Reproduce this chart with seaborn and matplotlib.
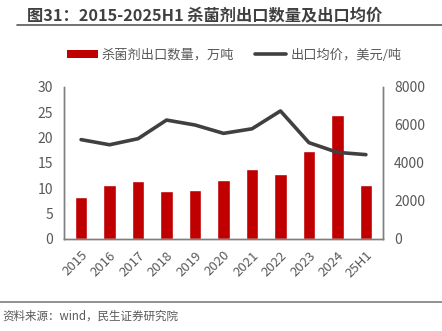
import numpy as np
import pandas as pd
import matplotlib
matplotlib.use("Agg")
import matplotlib.pyplot as plt
import seaborn as sns
from matplotlib.patches import Patch
from matplotlib.lines import Line2D

years = ["2015", "2016", "2017", "2018", "2019", "2020", "2021", "2022", "2023", "2024", "25H1"]
export_qty = [8.3, 10.7, 11.4, 9.4, 9.6, 11.6, 13.9, 12.9, 17.4, 24.4, 10.6]
avg_price = [5230, 4960, 5280, 6260, 6000, 5560, 5800, 6740, 5070, 4560, 4440]

sns.set_theme(style="white")
plt.rcParams['font.family'] = ['Noto Sans CJK SC', 'DejaVu Sans']

df = pd.DataFrame({"year": years, "qty": export_qty, "price": avg_price})

fig = plt.figure(figsize=(4.42, 3.31), dpi=100)
ax = fig.add_axes([64/442, 1-239/331, (383-64)/442, (239-87)/331])
sns.barplot(data=df, x="year", y="qty", color="#C00000", saturation=1, width=0.45, ax=ax)
ax.set_ylim(0, 30)
ax.set_yticks([0, 5, 10, 15, 20, 25, 30])
ax.set_xlim(-0.6, len(years) - 0.4)
ax.set_xlabel("")
ax.set_ylabel("")

ax2 = ax.twinx()
sns.lineplot(x=np.arange(len(years)), y=df["price"], color="#404040", linewidth=2.6, ax=ax2)
ax2.set_ylim(0, 8000)
ax2.set_yticks([0, 2000, 4000, 6000, 8000])
ax2.set_ylabel("")
ax2.set_xlim(-0.6, len(years) - 0.4)

gray = "#595959"
for a in (ax, ax2):
    for s in ["left", "right", "bottom"]:
        a.spines[s].set_visible(True)
        a.spines[s].set_color("#7f7f7f")
        a.spines[s].set_linewidth(1.0)
    a.spines["top"].set_visible(False)
    a.tick_params(axis="y", length=0, labelsize=10, colors=gray, pad=8)

ax.set_xticks(range(len(years)))
ax.set_xticklabels(years, rotation=45, ha="right", rotation_mode="anchor", color=gray, fontsize=9.5)
ax.tick_params(axis="x", length=0, pad=7)

# Title
fig.text(27/442, 1-15/331, "图31：2015-2025H1 杀菌剂出口数量及出口均价", fontsize=11.7,
         fontweight="bold", color="#404040", va="center", ha="left")
fig.add_artist(Line2D([17/442, 1.0], [1-24.5/331, 1-24.5/331], color="#595959", linewidth=1.2))

# Legend
handles = [Patch(facecolor="#C00000", edgecolor="none"),
           Line2D([0], [0], color="#404040", linewidth=2.6)]
labels = ["杀菌剂出口数量，万吨", "出口均价，美元/吨"]
fig.legend(handles, labels, loc="center", bbox_to_anchor=(234/442, 1-55/331), ncol=2,
           frameon=False, fontsize=9.5, handlelength=2.35, handleheight=0.6, handletextpad=0.3,
           columnspacing=1.6, labelcolor=gray)

# Footer
fig.add_artist(Line2D([0, 1.0], [1-302/331, 1-302/331], color="#7f7f7f", linewidth=1.2))
fig.text(2/442, 1-316/331, "资料来源：wind，民生证券研究院", fontsize=8.3, color=gray, va="center", ha="left")

fig.savefig("out.png", dpi=100)
